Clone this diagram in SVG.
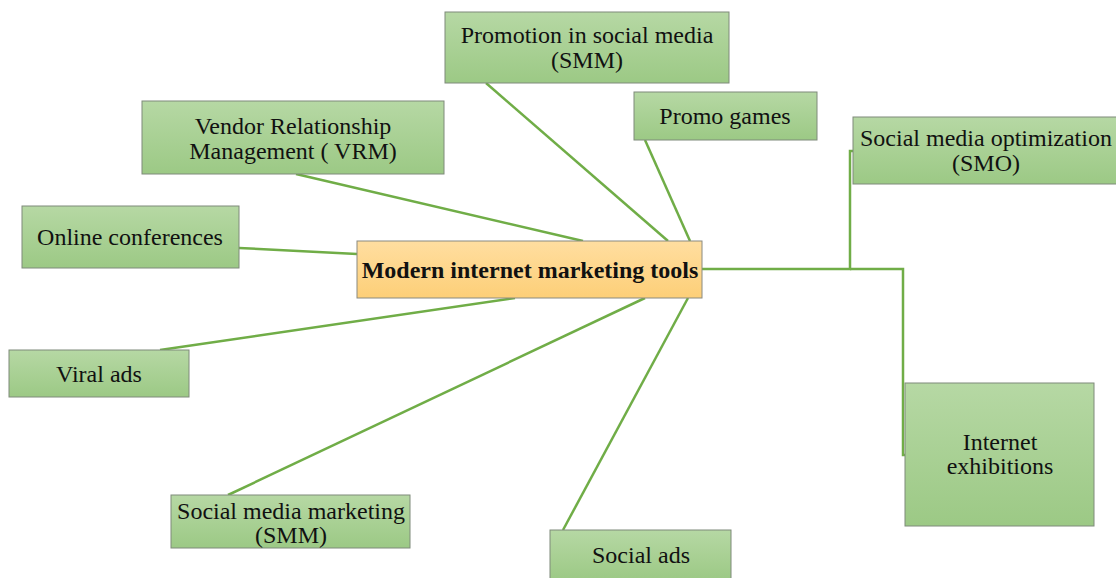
<svg xmlns="http://www.w3.org/2000/svg" width="1116" height="578" viewBox="0 0 1116 578">
<defs>
<linearGradient id="g" x1="0" y1="0" x2="0" y2="1">
<stop offset="0" stop-color="#b6d8a4"/>
<stop offset="1" stop-color="#9cc985"/>
</linearGradient>
<linearGradient id="o" x1="0" y1="0" x2="0" y2="1">
<stop offset="0" stop-color="#ffdea0"/>
<stop offset="1" stop-color="#fdcf78"/>
</linearGradient>
</defs>
<style>
.n{fill:url(#g);stroke:#7f8a7a;stroke-width:1}
.c{fill:url(#o);stroke:#8a8a80;stroke-width:1}
text{font-family:"Liberation Serif","Times New Roman",serif;font-size:24px;fill:#111;text-anchor:middle}
.b{font-weight:bold}
.l{fill:none;stroke:#70ad47;stroke-width:2.5}
</style>
<rect width="1116" height="578" fill="#fff"/>
<g id="connectors">
<line class="l" x1="486" y1="83" x2="668" y2="241"/>
<line class="l" x1="645" y1="140" x2="690" y2="241"/>
<line class="l" x1="296" y1="174" x2="583" y2="241"/>
<line class="l" x1="239" y1="248" x2="357" y2="254"/>
<line class="l" x1="160" y1="350" x2="515" y2="298"/>
<line class="l" x1="228" y1="495" x2="645" y2="298"/>
<line class="l" x1="563" y1="530" x2="688" y2="298"/>
<polyline class="l" points="702,269 850,269 850,151 854,151"/>
<polyline class="l" points="850,269 903,269 903,455 906,455"/>
</g>
<g id="n-promotion"><rect class="n" x="445" y="12" width="284" height="71"/><text x="587" y="43">Promotion in social media</text><text x="587" y="68">(SMM)</text></g>
<g id="n-promo-games"><rect class="n" x="634" y="92" width="183" height="48"/><text x="725" y="124">Promo games</text></g>
<g id="n-vrm"><rect class="n" x="142" y="101" width="302" height="73"/><text x="293" y="134">Vendor Relationship</text><text x="293" y="159">Management ( VRM)</text></g>
<g id="n-smo"><rect class="n" x="853" y="117" width="270" height="67"/><text x="986" y="146">Social media optimization</text><text x="986" y="171">(SMO)</text></g>
<g id="n-online"><rect class="n" x="22" y="206" width="217" height="62"/><text x="130" y="245">Online conferences</text></g>
<g id="n-center"><rect class="c" x="357" y="241" width="345" height="57"/><text class="b" x="530" y="278">Modern internet marketing tools</text></g>
<g id="n-viral"><rect class="n" x="9" y="350" width="180" height="47"/><text x="99" y="382">Viral ads</text></g>
<g id="n-exhibitions"><rect class="n" x="905" y="383" width="189" height="143"/><text x="1000" y="450">Internet</text><text x="1000" y="474">exhibitions</text></g>
<g id="n-smm"><rect class="n" x="171" y="495" width="239" height="53"/><text x="291" y="519">Social media marketing</text><text x="291" y="543">(SMM)</text></g>
<g id="n-social-ads"><rect class="n" x="550" y="530" width="181" height="50"/><text x="641" y="563">Social ads</text></g>
</svg>
